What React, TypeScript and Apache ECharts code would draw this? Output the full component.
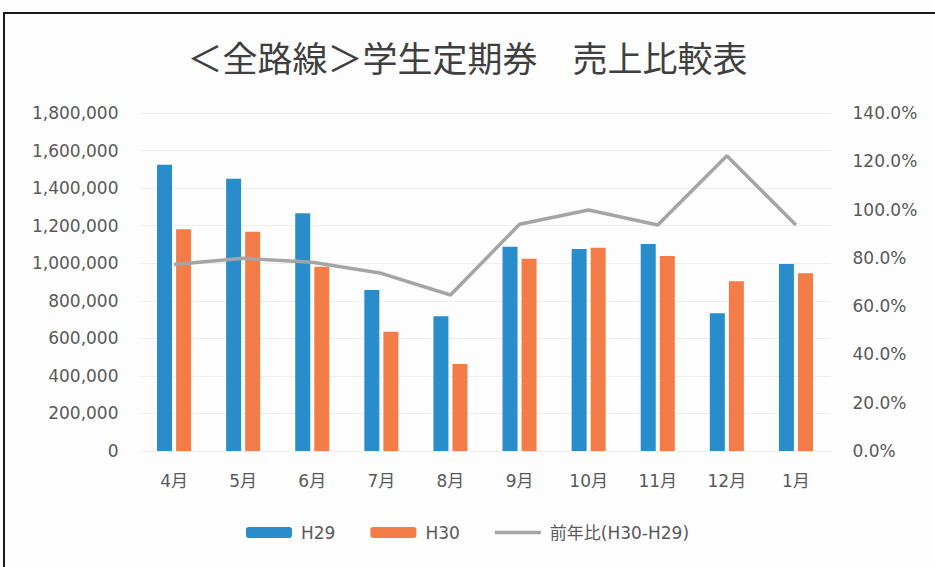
import React, { useEffect, useRef } from "react";
import * as echarts from "echarts";

const titleText = "＜全路線＞学生定期券　売上比較表";
const months = ["4月", "5月", "6月", "7月", "8月", "9月", "10月", "11月", "12月", "1月"];
const h29 = [1525000, 1450000, 1266000, 857000, 717000, 1088000, 1076000, 1102000, 733000, 996000];
const h30 = [1181000, 1168000, 981000, 635000, 463000, 1024000, 1083000, 1038000, 904000, 946000];
const ratio = [77.2, 79.8, 78.2, 73.6, 64.6, 93.9, 99.8, 93.6, 122.3, 93.6];
const seriesNames = ["H29", "H30", "前年比(H30-H29)"];

const FONT = "'DejaVu Sans', 'Noto Sans CJK JP', sans-serif";

export default function App() {
  const ref = useRef<HTMLDivElement>(null);
  useEffect(() => {
    if (!ref.current) return;
    const chart = echarts.init(ref.current, null, { renderer: "svg" });
    chart.setOption({
      animation: false,
      backgroundColor: "#fdfdfd",
      title: {
        text: titleText,
        left: "center",
        top: 34,
        padding: [5, 0, 5, 10],
        textStyle: {
          fontFamily: "'Noto Sans CJK JP', sans-serif",
          fontSize: 35,
          fontWeight: "normal",
          color: "#3f3f3f",
        },
      },
      graphic: [
        {
          type: "rect",
          shape: { x: 4, y: 13, width: 1000, height: 1000 },
          style: { fill: "none", stroke: "#1a1a1a", lineWidth: 2 },
          silent: true,
        },
      ],
      legend: {
        data: [
          { name: seriesNames[0] },
          { name: seriesNames[1] },
          { name: seriesNames[2], icon: "path://M0,0 L48,0 L48,3.5 L0,3.5 Z" },
        ],
        bottom: 21,
        left: "center",
        itemWidth: 46,
        itemHeight: 11,
        itemGap: 35,
        textStyle: {
          fontFamily: FONT,
          fontSize: 17,
          color: "#595959",
          padding: [0, 0, 0, 4],
        },
      },
      grid: { left: 139.5, right: 104.5, top: 113, bottom: 116 },
      xAxis: {
        type: "category",
        data: months,
        axisLine: { show: false },
        axisTick: { show: false },
        axisLabel: {
          fontFamily: FONT,
          fontSize: 17,
          color: "#595959",
          margin: 21,
        },
      },
      yAxis: [
        {
          type: "value",
          min: 0,
          max: 1800000,
          interval: 200000,
          axisLine: { show: false },
          axisTick: { show: false },
          axisLabel: {
            fontFamily: FONT,
            fontSize: 17,
            color: "#595959",
            margin: 21,
            formatter: (v: number) => v.toLocaleString("en-US"),
          },
          splitLine: { lineStyle: { color: "#eeeeee", width: 1 } },
        },
        {
          type: "value",
          min: 0,
          max: 140,
          interval: 20,
          axisLine: { show: false },
          axisTick: { show: false },
          axisLabel: {
            fontFamily: FONT,
            fontSize: 17,
            color: "#595959",
            margin: 22,
            formatter: (v: number) => v.toFixed(1) + "%",
          },
          splitLine: { show: false },
        },
      ],
      series: [
        {
          name: seriesNames[0],
          type: "bar",
          data: h29,
          barWidth: 15,
          barGap: "27%",
          itemStyle: { color: "#2a8dcb" },
        },
        {
          name: seriesNames[1],
          type: "bar",
          data: h30,
          barWidth: 15,
          itemStyle: { color: "#f47c48" },
        },
        {
          name: seriesNames[2],
          type: "line",
          yAxisIndex: 1,
          data: ratio,
          symbol: "none",
          lineStyle: { color: "#a5a5a5", width: 3.5 },
          itemStyle: { color: "#a5a5a5" },
        },
      ],
    });
    return () => chart.dispose();
  }, []);
  return (
    <div
      ref={ref}
      style={{ position: "fixed", left: 0, top: 0, width: 935, height: 567 }}
    />
  );
}
